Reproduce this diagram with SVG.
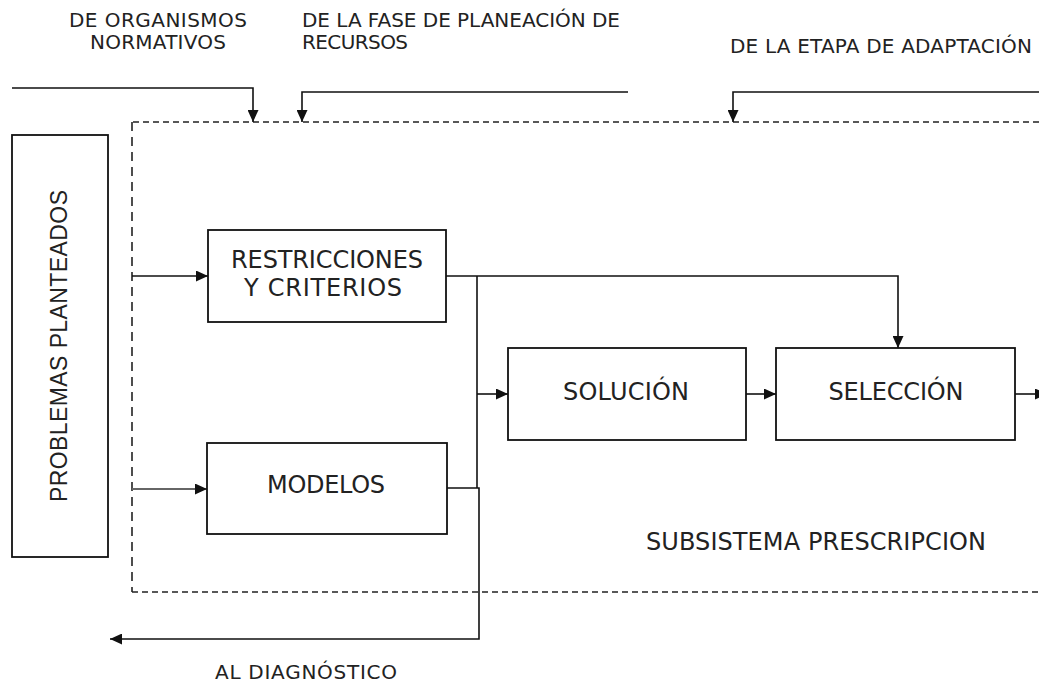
<svg xmlns="http://www.w3.org/2000/svg" width="1039" height="684" viewBox="0 0 1039 684">
<style>
.box{fill:#fff;stroke:#111;stroke-width:1.8}
.ln{fill:none;stroke:#111;stroke-width:1.6}
.dash{fill:none;stroke:#222;stroke-width:1.6}
.lbl{font-family:"DejaVu Sans",Verdana,sans-serif;font-size:20px;fill:#222}
.bl{font-family:"DejaVu Sans",Verdana,sans-serif;font-size:24px;fill:#222;text-anchor:middle}
</style>
<defs>
<marker id="ah" viewBox="0 0 12 11" refX="12" refY="5.5" markerWidth="12" markerHeight="11" markerUnits="userSpaceOnUse" orient="auto">
<path d="M0,0 L12,5.5 L0,11 z" fill="#111"/>
</marker>
</defs>
<rect width="1039" height="684" fill="#fff"/>
<g id="frame">
<path class="dash" d="M1039,122 H132" stroke-dasharray="6 4"/>
<path class="dash" d="M132,122 V592" stroke-dasharray="9 6"/>
<path class="dash" d="M132,592 H1039" stroke-dasharray="6 4"/>
<text class="bl" x="816" y="550" textLength="340" lengthAdjust="spacing">SUBSISTEMA PRESCRIPCION</text>
</g>
<g id="labels">
<text class="lbl" x="69" y="27" textLength="178" lengthAdjust="spacing">DE ORGANISMOS</text>
<text class="lbl" x="90" y="49" textLength="136" lengthAdjust="spacing">NORMATIVOS</text>
<text class="lbl" x="302" y="27" textLength="318" lengthAdjust="spacing">DE LA FASE DE PLANEACIÓN DE</text>
<text class="lbl" x="302" y="49" textLength="106" lengthAdjust="spacing">RECURSOS</text>
<text class="lbl" x="730" y="53" textLength="302" lengthAdjust="spacing">DE LA ETAPA DE ADAPTACIÓN</text>
<text class="lbl" x="215" y="679" textLength="182" lengthAdjust="spacing">AL DIAGNÓSTICO</text>
</g>
<g id="connectors">
<path class="ln" d="M12,88 H253 V122" marker-end="url(#ah)"/>
<path class="ln" d="M628,92 H302 V122" marker-end="url(#ah)"/>
<path class="ln" d="M1039,92 H733 V122" marker-end="url(#ah)"/>
<path class="ln" d="M132,276 H208" marker-end="url(#ah)"/>
<path d="M132,489 H207" fill="none" stroke="#666" stroke-width="2.2" marker-end="url(#ah)"/>
<path class="ln" d="M446,276 H898 V348" marker-end="url(#ah)"/>
<path class="ln" d="M477,276 V488"/>
<path class="ln" d="M477,394 H508" marker-end="url(#ah)"/>
<path class="ln" d="M746,394 H776" marker-end="url(#ah)"/>
<path class="ln" d="M1015,394 H1047" marker-end="url(#ah)"/>
<path class="ln" d="M447,488 H479 V639 H110" marker-end="url(#ah)"/>
</g>
<g id="problemas">
<rect class="box" x="12" y="135" width="96" height="422"/>
<text transform="translate(67,346) rotate(-90)" font-family="'Liberation Sans',Arial,sans-serif" font-size="23" fill="#222" text-anchor="middle" textLength="312" lengthAdjust="spacing">PROBLEMAS PLANTEADOS</text>
</g>
<g id="restricciones">
<rect class="box" x="208" y="230" width="238" height="92"/>
<text class="bl" x="327" y="268" textLength="192" lengthAdjust="spacing">RESTRICCIONES</text>
<text class="bl" x="323" y="296" textLength="158" lengthAdjust="spacing">Y CRITERIOS</text>
</g>
<g id="modelos">
<rect class="box" x="207" y="443" width="240" height="91"/>
<text class="bl" x="326" y="493" textLength="118" lengthAdjust="spacing">MODELOS</text>
</g>
<g id="solucion">
<rect class="box" x="508" y="348" width="238" height="92"/>
<text class="bl" x="626" y="400" textLength="126" lengthAdjust="spacing">SOLUCIÓN</text>
</g>
<g id="seleccion">
<rect class="box" x="776" y="348" width="239" height="92"/>
<text class="bl" x="896" y="400" textLength="135" lengthAdjust="spacing">SELECCIÓN</text>
</g>
</svg>
